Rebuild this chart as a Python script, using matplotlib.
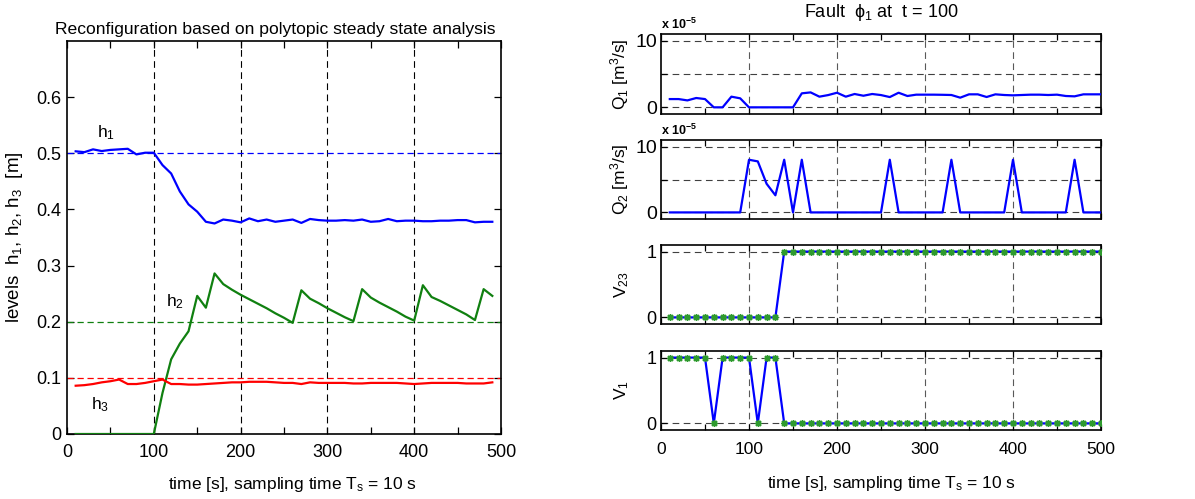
import numpy as np
import matplotlib
matplotlib.use("Agg")
import matplotlib.pyplot as plt
from matplotlib.ticker import MultipleLocator

plt.rcParams['font.family'] = ['Liberation Sans', 'DejaVu Sans']
plt.rcParams['mathtext.default'] = 'regular'

# ---- tank levels, sampled every 10 s ----
t_lev = np.arange(10, 500, 10)
h1 = [0.5035, 0.502, 0.507, 0.504, 0.506, 0.507, 0.508, 0.498, 0.501, 0.501,
      0.479, 0.464, 0.432, 0.409, 0.396, 0.378, 0.375, 0.382, 0.380, 0.377,
      0.384, 0.379, 0.382, 0.378, 0.380, 0.382, 0.376, 0.383, 0.381, 0.380,
      0.380, 0.381, 0.380, 0.382, 0.378, 0.379, 0.383, 0.379, 0.380, 0.380,
      0.379, 0.379, 0.380, 0.380, 0.381, 0.381, 0.377, 0.378, 0.378]
h2 = [0, 0, 0, 0, 0, 0, 0, 0, 0, 0,
      0.073, 0.133, 0.161, 0.183, 0.246, 0.225, 0.286, 0.267, 0.257, 0.248,
      0.240, 0.232, 0.224, 0.215, 0.207, 0.198, 0.256, 0.241, 0.233, 0.224,
      0.216, 0.208, 0.201, 0.258, 0.243, 0.234, 0.226, 0.218, 0.209, 0.202,
      0.265, 0.244, 0.237, 0.229, 0.221, 0.213, 0.203, 0.258, 0.246]
h3 = [0.086, 0.087, 0.089, 0.092, 0.094, 0.097, 0.089, 0.089, 0.091, 0.094,
      0.097, 0.089, 0.089, 0.088, 0.088, 0.089, 0.090, 0.091, 0.092, 0.092,
      0.093, 0.093, 0.093, 0.092, 0.091, 0.091, 0.089, 0.092, 0.091, 0.091,
      0.091, 0.091, 0.090, 0.090, 0.091, 0.091, 0.091, 0.091, 0.090, 0.089,
      0.090, 0.091, 0.091, 0.091, 0.091, 0.090, 0.090, 0.090, 0.092]
setpoints = [0.5, 0.2, 0.1]

# ---- actuator signals ----
t_act = np.arange(10, 510, 10)
# flows in units of 1e-5 m^3/s
Q1 = [1.24, 1.24, 1.04, 1.4, 1.24, 0, 0, 1.6, 1.35, 0,
      0, 0, 0, 0, 0, 2.1, 2.24, 1.6, 1.84, 2.19,
      1.6, 2.0, 1.74, 2.0, 1.84, 1.54, 2.19, 1.7, 1.9, 1.9,
      1.9, 1.88, 1.85, 1.45, 1.95, 1.95, 1.55, 1.95, 1.85, 1.8,
      1.85, 1.9, 1.9, 1.85, 1.9, 1.7, 1.65, 1.95, 1.95, 1.95]
Q2 = [0, 0, 0, 0, 0, 0, 0, 0, 0, 8.0,
      7.75, 4.35, 2.6, 8.0, 0, 8.0, 0, 0, 0, 0,
      0, 0, 0, 0, 0, 8.0, 0, 0, 0, 0,
      0, 0, 8.0, 0, 0, 0, 0, 0, 0, 8.0,
      0, 0, 0, 0, 0, 0, 8.0, 0, 0, 0]
V23 = [0] * 13 + [1] * 37
V1 = [1, 1, 1, 1, 1, 0, 1, 1, 1, 1, 0, 1, 1] + [0] * 37

W, H = 1195, 499
fig = plt.figure(figsize=(W / 100, H / 100), dpi=100)


def px_axes(left, top, right, bottom):
    return fig.add_axes([left / W, (H - bottom) / H, (right - left) / W, (bottom - top) / H])


def style(ax, size, ticklen=5):
    for s in ax.spines.values():
        s.set_linewidth(1.2)
    ax.tick_params(which='both', direction='in', top=True, right=True,
                   labelsize=size, width=0.9)
    ax.tick_params(which='major', length=ticklen)
    ax.tick_params(which='minor', length=ticklen)


grid_kw = dict(color='k', lw=0.8, ls=(0, (6, 4)), zorder=1)

# ---- left: levels ----
ax = px_axes(67, 41, 501, 434)
for x in (100, 200, 300, 400):
    ax.axvline(x, **grid_kw)
cols = ['#0000ff', '#108010', '#ff0000']
for sp, c in zip(setpoints, cols):
    ax.axhline(sp, color=c, lw=0.9, ls=(0, (5, 3)), zorder=2)
for h, c in zip((h1, h2, h3), cols):
    ax.plot(t_lev, h, color=c, lw=1.6, zorder=3)
ax.set_xlim(0, 500)
ax.set_ylim(0, 0.7)
ax.set_yticks(np.arange(0, 0.61, 0.1))
ax.set_yticklabels(['0', '0.1', '0.2', '0.3', '0.4', '0.5', '0.6'])
ax.xaxis.set_major_locator(MultipleLocator(100))
ax.xaxis.set_minor_locator(MultipleLocator(50))
style(ax, 13)
ax.tick_params(axis='x', pad=7)
ax.tick_params(axis='y', pad=4)
ax.text(35, 0.537, 'h$_1$', fontsize=12.5, va='center')
ax.text(114, 0.235, 'h$_2$', fontsize=12.5, va='center')
ax.text(28, 0.052, 'h$_3$', fontsize=12.5, va='center')
ax.set_title('Reconfiguration based on polytopic steady state analysis',
             fontsize=12.6, pad=5, x=0.48)
ax.set_ylabel('levels  h$_1$, h$_2$, h$_3$  [m]', fontsize=13.5)
ax.yaxis.set_label_coords(-0.097, 0.5)
ax.set_xlabel('time [s], sampling time T$_s$ = 10 s', fontsize=12.5, va='top')
ax.xaxis.set_label_coords(0.52, -0.105)

# ---- right: actuators ----
rows = [(34, 114), (140, 219), (245, 324), (351, 430)]
signals = [Q1, Q2, V23, V1]
ylabels = ['Q$_1$ [m$^3$/s]', 'Q$_2$ [m$^3$/s]', 'V$_{23}$', 'V$_1$']
axes_r = []
for i, ((top, bot), y, lab) in enumerate(zip(rows, signals, ylabels)):
    a = px_axes(661, top, 1101, bot)
    axes_r.append(a)
    for x in (100, 200, 300, 400):
        a.axvline(x, color='0.35', lw=0.8, ls=(0, (6, 4)), zorder=1)
    if i < 2:
        for yy in (0, 5, 10):
            a.axhline(yy, color='0.25', lw=0.8, ls=(0, (6, 4)), zorder=1)
        a.set_ylim(-1, 11)
        a.set_yticks([0, 5, 10])
        a.set_yticklabels(['0', '', '10'])
        a.plot(t_act, y, color='#0000ff', lw=1.6, zorder=3)
        a.text(0, 1.02, 'x 10$^{-5}$', transform=a.transAxes, fontsize=9,
               fontweight='bold', ha='left', va='bottom')
        ysize = 14
    else:
        for yy in (0, 1):
            a.axhline(yy, color='0.25', lw=0.8, ls=(0, (6, 4)), zorder=1)
        a.set_ylim(-0.1, 1.1)
        a.set_yticks([0, 1])
        a.plot(t_act, y, color='#0000ff', lw=1.6, zorder=3)
        a.plot(t_act, y, ls='none', marker=(8, 2, 0), ms=5, mew=1.0,
               color='#2e9a2e', zorder=4)
        ysize = 13
    a.set_xlim(0, 500)
    a.xaxis.set_major_locator(MultipleLocator(100))
    a.xaxis.set_minor_locator(MultipleLocator(50))
    style(a, 12, ticklen=4)
    a.tick_params(axis='y', labelsize=ysize, pad=3)
    a.set_ylabel(lab, fontsize=12.5)
    a.yaxis.set_label_coords(-0.068, 0.5)
    if i < 3:
        a.tick_params(axis='x', labelbottom=False)
    else:
        a.tick_params(axis='x', labelsize=12.5, pad=9)

axes_r[0].set_title('Fault  \u03d5$_1$ at  t = 100', fontsize=13, pad=12)
axes_r[3].set_xlabel('time [s], sampling time T$_s$ = 10 s', fontsize=12.5, va='top')
axes_r[3].xaxis.set_label_coords(0.525, -0.56)

fig.savefig('out.png', dpi=100)
